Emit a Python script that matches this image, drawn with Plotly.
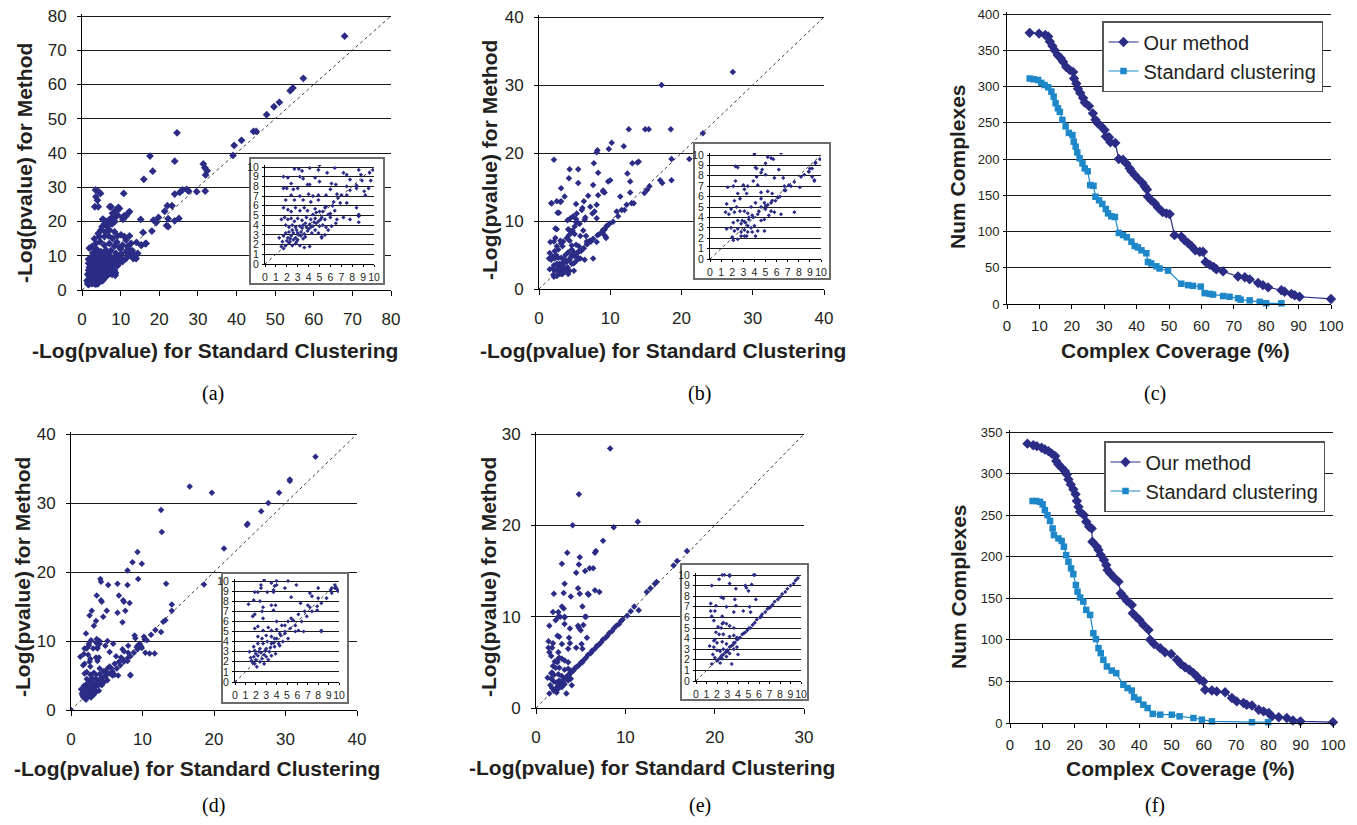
import plotly.graph_objects as go

W, H = 1357, 825
OFF = 8            # page body margin added by the browser around the plot div
FW, FH = W - 2 * OFF, H - 2 * OFF

# ---------------- data ----------------
# Panel (a): -log(p) standard clustering vs method
a_pts = [
    (2.7,9.8),(3.1,9.8),(3.4,9.6),(4.1,9.9),(4.9,9.7),(5.7,9.4),(6.4,9.9),(7.2,9.4),(7.5,9.2),(8.6,9.7),(9.6,9.4),(9.9,9.7),
    (1.7,9.0),(2.1,8.9),(3.2,9.0),(3.5,8.8),(4.6,8.9),(7.8,8.7),(6.1,8.3),(2.4,8.3),
    (1.7,7.8),(2.0,7.8),(2.6,7.7),(3.0,7.8),(3.9,8.2),(4.1,8.2),(5.0,8.5),(6.0,7.7),(6.5,8.2),(7.5,8.0),(8.4,7.8),(9.1,7.5),(9.2,7.1),
    (2.4,7.1),(3.2,7.0),(4.0,7.2),(4.4,7.0),(4.9,7.1),(5.6,7.1),(6.6,7.2),(7.0,7.1),
    (1.9,6.6),(2.7,6.6),(3.5,6.6),(4.2,6.4),(4.9,6.6),(6.3,6.4),(6.9,6.3),(7.5,6.3),
    (1.7,5.8),(2.1,5.6),(2.4,5.4),(2.8,5.8),(3.2,5.5),(3.6,5.8),(3.9,5.5),(4.6,5.7),(5.0,5.4),(5.5,5.8),(6.0,5.2),(6.4,5.5),
    (1.5,4.6),(1.8,4.8),(2.1,4.6),(2.4,4.7),(2.7,4.4),(3.0,4.7),(3.4,4.5),(3.8,4.8),(4.2,4.6),(4.6,4.7),(4.9,4.4),(5.2,4.8),
    (5.5,4.6),(6.0,4.8),(6.6,4.6),(7.2,4.8),(7.8,4.6),(8.6,5.1),(8.6,4.3),
    (1.9,4.0),(2.2,3.8),(2.5,4.0),(2.8,3.8),(3.2,3.9),(3.5,4.0),(3.8,3.8),(4.1,4.1),(4.4,3.9),(4.7,4.2),(5.0,3.9),(5.3,4.0),
    (5.6,3.8),(6.1,3.9),(6.5,4.2),
    (1.3,2.7),(1.7,2.9),(1.9,3.2),(2.1,2.7),(2.3,2.3),(2.4,2.9),(2.6,3.2),(2.8,2.7),(2.9,2.3),(3.1,3.0),(3.3,3.3),(3.5,2.6),
    (3.7,2.8),(3.9,3.4),(4.3,3.2),(4.6,3.5),(4.9,3.2),(5.2,2.8),(5.5,3.0),(5.8,3.5),
    (1.5,1.8),(1.7,1.6),(1.9,1.9),(2.2,2.2),(2.5,1.9),(2.8,2.1),(3.2,1.9),(3.6,1.7),(4.1,1.8),(5.2,2.7),
    (4.4,5.1),(4.7,5.3),(5.3,5.4),(5.6,5.9),(6.7,6.8),(7.5,7.1),(7.8,7.6),(8.4,8.1),(8.9,8.6),
    (2.0,2.4),(2.3,2.6),(2.6,2.5),(3.0,2.5),(3.3,2.9),(3.6,3.1),(4.0,3.6),(4.2,3.8),(2.2,3.3),(2.9,3.5),(3.4,3.7),(3.7,4.2),
    (4.5,4.3),(5.1,4.6),(5.8,5.1),(6.2,6.0),(1.6,2.3),(2.5,3.5),(3.0,3.2),
    (7.5,24.3),(8.8,23.4),(9.2,21.9),(9.7,23.8),(7.9,22.4),(8.6,21.2),(7.1,20.6),(6.2,20.0),(5.4,20.6),(5.8,19.3),(6.6,18.5),
    (7.8,19.3),(10.5,21.2),(11.4,21.6),(12.3,22.9),(10.8,28.2),
    (4.9,17.5),(6.0,17.0),(7.1,17.5),(8.4,17.0),(4.5,15.6),(5.8,15.6),(6.9,15.8),(7.9,15.1),(9.2,15.8),(10.1,16.1),(11.0,15.6),
    (11.4,14.6),(12.3,15.8),(12.7,13.6),(11.8,12.7),(3.6,13.6),(4.7,14.1),(5.8,13.1),(7.1,13.6),(8.4,12.8),(9.7,12.5),(10.5,13.1),
    (2.6,12.7),(3.8,11.9),(4.9,11.2),(6.2,11.7),(7.5,11.5),(8.8,10.7),(10.1,10.5),(11.4,11.2),(12.3,10.2),(13.5,10.2),(14.4,10.7),
    (15.3,13.1),(16.6,13.6),(14.0,9.2),(8.8,9.2),(9.7,8.6),(8.6,4.9),(8.4,5.8),(10.5,8.3),(11.4,9.2),(9.5,7.8),(1.9,12.2),(2.8,10.7),
    (3.0,11.0),(4.0,10.5),(5.0,10.2),(6.0,10.8),(7.0,10.3),(3.2,15.0),(4.2,16.5),(5.2,18.5),(9.0,14.0),(10.0,12.0),(12.0,12.0),(13.0,11.5),
    (68.0,74.1),(57.3,61.8),(54.6,59.0),(53.9,58.2),(51.1,54.8),(49.7,53.5),(47.8,51.2),(44.4,46.3),(45.1,46.3),(41.3,43.7),
    (39.4,42.2),(39.1,39.3),(24.6,45.9),(17.6,39.1),(18.3,34.7),(16.0,32.3),(24.0,37.6),(31.4,36.8),(31.8,35.7),(32.4,34.8),
    (32.0,33.6),(31.9,28.9),(29.7,28.7),(27.1,29.4),(26.0,29.2),(25.3,28.5),(24.0,28.0),(27.6,28.9),(23.3,24.6),(22.1,24.6),
    (21.4,23.0),(22.3,20.8),(19.8,21.2),(19.2,19.7),(18.5,20.4),(25.1,20.9),(24.0,20.2),(21.9,18.8),(22.3,18.5),(15.2,20.6),
    (18.1,17.2),(15.8,16.8),(16.4,13.5),(15.4,13.1),(14.1,13.9),(13.7,9.8),(13.3,9.2),
    (3.5,29.2),(4.3,28.7),(4.8,28.2),(3.6,27.2),(4.0,26.2),(3.3,24.3),(4.2,24.3),(7.2,24.3),(9.4,24.1),(8.9,23.1),(8.6,22.4),
    (8.0,21.4),(11.9,22.4),(10.9,21.6),(10.6,20.6),(5.4,20.7),(6.0,20.0),(6.4,19.4),(8.5,20.0),
]

# Panel (b)
b_pts = [
    (5.2,9.8),(5.5,9.7),(5.0,9.2),(2.3,8.9),(4.1,8.8),(4.7,8.6),(4.6,8.3),(4.2,7.9),(5.0,8.1),(6.2,8.6),(5.8,7.8),(6.6,7.8),
    (8.9,8.4),(9.2,8.7),(9.5,9.3),(9.2,7.9),(8.2,7.9),(9.4,7.5),(2.3,7.5),(3.9,7.5),(4.3,7.1),(3.0,7.1),(2.1,7.0),(1.6,6.9),
    (3.4,7.0),(3.1,6.7),(3.3,6.3),(2.5,6.3),(4.6,6.4),(5.2,6.5),(6.7,7.0),(7.3,7.0),(8.1,6.9),(6.8,6.6),(6.3,6.0),(5.6,6.3),
    (1.5,5.3),(2.2,5.6),(2.7,5.8),(2.4,5.0),(1.9,4.8),(1.4,4.5),(1.7,4.3),(2.2,4.5),(2.7,4.6),(3.1,4.6),(3.4,4.4),(3.7,5.0),
    (4.1,5.4),(4.6,5.8),(4.9,5.4),(5.2,5.2),(5.5,5.4),(5.9,5.6),(4.6,5.0),(5.0,4.8),(5.5,4.6),(5.8,4.5),(6.4,4.3),(7.6,4.5),
    (3.9,4.0),(4.3,4.3),(4.6,3.7),(4.9,3.8),(5.3,4.2),(3.5,3.8),(3.2,3.5),(2.9,3.7),(2.5,3.7),(2.1,3.5),(1.9,3.0),(1.5,2.9),
    (2.2,2.7),(2.5,2.9),(2.8,2.6),(3.1,2.8),(3.4,2.6),(3.7,3.0),(4.0,3.2),(3.4,3.2),(3.8,2.6),(4.3,2.7),(4.1,2.2),(4.9,2.7),
    (3.1,2.2),(3.3,2.2),(2.0,2.1),(2.1,1.8),(2.5,1.9),(2.8,2.2),
    (2.8,3.4),(3.1,3.6),(3.5,4.0),(3.8,4.2),(4.4,4.6),(5.0,5.1),(5.6,5.6),(6.1,5.9),(6.7,6.6),(7.1,7.1),(7.6,7.4),(8.5,8.1),(8.9,8.4),
    (27.2,31.9),(17.2,30.0),(12.6,23.5),(14.9,23.5),(15.4,23.5),(18.5,23.5),(23.0,22.9),(2.1,19.0),(21.1,19.1),(18.6,19.1),
    (10.2,21.5),(9.8,20.6),(11.9,21.0),(8.2,20.4),(8.1,20.1),(7.7,18.5),(8.3,17.1),(13.1,18.5),(13.8,18.6),(14.0,18.7),
    (12.4,17.0),(12.8,15.8),(12.8,14.2),(11.4,13.6),(9.7,15.8),(10.0,16.0),(9.2,14.2),(9.0,14.5),(7.6,15.3),(6.9,13.7),
    (4.3,17.6),(5.5,17.6),(4.2,16.3),(5.5,15.6),(1.7,12.6),(2.5,12.9),(3.1,12.9),(2.8,11.2),(3.1,14.8),(3.6,13.6),(5.2,12.5),
    (6.3,12.9),(6.1,11.9),(2.5,8.8),(4.2,8.7),(4.8,10.7),(8.1,10.4),(7.5,11.1),(7.2,12.1),(6.4,10.2),(5.7,9.6),(5.2,10.3),
    (4.4,10.4),(14.8,14.1),(15.5,15.1),(15.2,14.6),(17.0,16.0),(17.3,15.6),(18.6,16.0),(9.4,7.6),(9.0,8.7),(9.5,9.2),(9.9,9.6),
    (10.4,9.9),(11.1,10.7),(12.0,11.6),(13.0,12.6),(10.9,11.4),(11.6,11.6),(12.3,12.4),(13.3,12.6),(2.6,11.2),(1.8,12.6),
    (3.0,12.8),(4.0,10.1),(6.0,11.6),(6.5,10.5),(8.1,12.4),(7.8,11.4),(8.3,13.8),(9.0,14.3),(5.3,11.1),
]

# Panel (d)
d_pts = [
    (3.5,9.8),(4.0,10.0),(2.5,9.6),(2.5,9.3),(3.8,9.5),(4.8,9.3),(5.9,9.6),(8.0,9.3),(9.3,9.3),(9.8,9.2),(9.6,9.6),(9.9,9.0),
    (1.9,8.9),(3.1,8.9),(3.7,8.9),(5.4,8.4),(7.2,8.8),(7.4,8.5),(8.0,8.3),(1.3,7.7),(1.8,8.1),(2.4,8.0),(3.5,7.6),(3.9,7.6),
    (2.7,7.4),(3.7,7.1),(2.6,7.0),(6.3,7.8),(7.0,7.6),(7.2,7.4),(7.9,7.1),(1.7,6.5),(1.9,6.7),(2.7,6.3),(4.0,6.0),(5.4,6.3),
    (6.1,6.7),(6.7,7.0),(4.8,5.6),(6.6,5.0),(8.3,5.1),(6.1,5.1),(5.8,5.0),
    (1.9,5.3),(2.2,5.5),(2.7,5.1),(3.2,5.4),(3.5,5.1),(4.0,5.2),(4.5,5.6),(5.1,6.0),(5.6,6.1),(2.2,4.5),(2.6,4.3),(3.0,4.6),
    (3.5,4.5),(4.0,4.3),(4.4,4.6),(4.8,4.8),(5.1,4.3),(4.2,3.8),(4.6,4.0),(3.5,3.8),(3.1,4.0),(2.7,3.8),(2.2,3.8),(1.8,3.5),
    (1.4,3.0),(1.9,3.1),(2.4,3.3),(2.9,3.1),(3.4,3.4),(3.8,3.5),(4.3,3.6),(1.8,2.5),(2.2,2.6),(2.6,2.3),(3.0,2.5),(3.5,2.6),
    (3.9,2.8),(2.4,2.0),(2.8,1.8),(1.9,1.8),(1.6,2.1),(3.2,2.2),(2.1,1.5),
    (5.3,5.3),(5.8,5.6),(6.4,6.0),(6.9,6.5),(7.4,7.0),(7.9,7.5),(8.3,7.8),(8.8,8.3),(9.3,8.8),(9.6,9.3),(4.8,5.0),(4.3,4.8),
    (3.8,4.3),(0.0,0.0),(1.5,2.4),(2.0,2.8),(2.5,2.9),(3.0,3.3),(3.3,3.0),(3.7,3.9),(2.3,3.0),(2.8,2.7),(1.7,1.9),(2.0,2.2),
    (34.2,36.7),(30.6,33.4),(30.6,33.2),(29.1,31.5),(27.6,30.0),(26.6,28.8),(24.6,26.8),(24.7,27.0),(21.4,23.4),(18.6,18.2),
    (16.6,32.4),(19.7,31.5),(12.6,29.0),(12.7,25.8),(9.3,22.9),(8.6,21.4),(9.9,21.2),(7.9,20.2),(9.4,19.0),(13.3,18.3),
    (14.1,15.3),(14.1,14.4),(12.9,12.8),(13.2,13.0),(12.6,11.3),(4.1,19.0),(4.2,18.6),(5.2,18.1),(6.5,18.3),(7.9,18.1),
    (3.6,16.6),(4.2,15.9),(4.3,15.7),(6.7,16.6),(7.3,15.9),(7.4,15.7),(8.2,15.5),(7.6,14.4),(5.0,14.4),(6.5,14.1),(7.2,12.7),
    (2.6,13.7),(2.9,14.4),(3.5,12.9),(3.2,12.2),(4.5,13.5),(2.1,11.1),(2.8,10.1),(3.6,10.3),(4.0,9.6),(3.7,9.1),(2.2,8.9),
    (5.1,10.0),(8.9,10.8),(9.0,10.4),(10.2,10.6),(10.6,10.1),(9.7,9.4),(9.2,9.1),(10.4,8.3),(11.0,8.2),(11.7,8.2),(8.3,5.0),
    (10.3,10.2),(11.2,10.9),(11.8,11.6),
]

# Panel (e)
e_pts = [
    (2.5,10.0),(2.2,9.6),(3.2,9.9),(5.5,10.0),(1.5,9.0),(3.2,9.2),(5.3,9.1),(4.8,8.8),(4.7,9.0),(3.8,8.7),(5.0,8.5),(2.4,7.9),
    (2.6,7.8),(3.7,7.7),(5.7,7.7),(1.4,7.3),(1.9,7.1),(2.9,7.0),(3.8,7.1),(5.1,7.0),(1.4,6.6),(1.8,6.6),(4.5,6.6),(5.2,6.5),
    (1.5,6.1),(2.5,6.1),(3.6,6.5),
    (1.7,5.7),(2.5,5.4),(2.6,5.5),(2.9,5.4),(3.2,5.2),(2.1,5.1),(2.4,5.0),(3.6,5.0),(1.9,4.6),(2.2,4.4),(2.6,4.4),(3.2,4.2),
    (3.6,4.3),(3.9,4.1),(1.7,3.8),(1.8,3.9),(2.0,3.6),(2.5,3.7),(2.9,3.5),(3.6,3.6),(1.3,3.3),(1.7,3.2),(2.0,2.9),(2.3,2.8),
    (2.6,3.0),(3.0,2.8),(3.2,2.6),(3.6,3.0),(3.9,3.2),(1.6,2.5),(1.8,2.2),(2.0,1.9),(2.3,1.7),(2.5,2.1),(2.9,2.3),(3.4,1.6),
    (1.5,1.6),(4.0,2.5),
    (2.3,2.2),(2.8,2.7),(3.2,3.2),(3.7,3.6),(4.2,4.1),(4.7,4.6),(5.2,5.0),(5.6,5.5),(6.1,6.0),(6.6,6.5),(7.1,7.0),(7.5,7.5),
    (8.0,7.9),(8.5,8.4),(9.0,9.0),(9.5,9.5),(2.6,2.5),(3.0,2.9),(3.5,3.4),(3.9,3.9),(4.4,4.4),(4.9,4.8),(5.4,5.3),(5.8,5.8),
    (6.3,6.3),(6.8,6.8),(7.3,7.2),(7.8,7.7),(8.2,8.2),(8.7,8.7),(9.3,9.2),(9.7,9.7),(2.1,2.0),(2.45,2.4),(2.95,2.9),(3.35,3.3),
    (4.05,4.0),(4.55,4.5),(5.05,5.0),(6.2,6.1),(7.0,6.9),
    (8.3,28.4),(4.8,23.4),(4.1,20.0),(11.4,20.4),(8.7,19.8),(7.5,18.3),(6.7,17.2),(6.6,17.0),(3.5,17.0),(2.9,15.8),(4.9,16.5),
    (4.8,15.7),(4.5,14.8),(5.5,15.0),(6.0,15.3),(6.4,15.3),(3.2,13.6),(3.9,12.2),(2.0,12.5),(3.1,12.6),(4.9,12.5),(4.7,13.1),
    (5.8,12.5),(5.9,12.4),(6.6,12.9),(7.1,12.7),(5.2,11.1),(5.6,10.0),(1.9,10.5),(2.5,10.5),(2.7,10.0),(2.9,11.1),
    (3.1,10.9),(3.2,10.0),(16.9,17.2),(15.8,16.1),(15.4,15.6),(13.5,13.8),(13.3,13.6),(12.8,13.1),(12.4,12.7),(11.5,10.7),
    (10.6,10.6),(10.2,10.1),(11.0,11.1),
]

# Panel (c): complex coverage curves
c_our_x = [7.0,9.9,11.8,12.7,13.2,14.0,14.7,15.7,16.6,17.3,18.3,19.3,20.4,20.7,21.4,21.9,22.6,23.5,24.0,25.3,26.5,27.3,
           28.1,29.1,30.1,30.5,31.5,31.9,33.4,34.5,35.8,36.8,37.9,38.4,39.4,40.4,41.8,42.5,43.2,43.5,44.5,45.6,46.6,48.0,
           49.2,50.2,51.7,53.8,54.8,55.9,56.9,58.1,59.5,60.5,61.3,62.6,63.8,64.6,66.7,71.3,73.4,74.9,77.5,79.0,80.6,84.7,
           85.7,87.8,88.8,90.3,100.0]
c_our_y = [374,373,371,369,362,356,350,343,339,334,327,323,320,311,304,297,291,284,278,273,263,254,
           249,245,240,231,230,223,222,200,199,194,187,183,178,173,167,162,158,148,143,139,133,127,
           125,124,95,93,88,84,80,74,72,72,58,54,51,48,45,38,37,34,29,26,23,19,
           17,14,12,10,7]
c_std_x = [7.0,8.2,9.6,10.6,11.6,12.7,13.7,14.4,15.0,15.7,16.3,17.1,18.1,19.1,20.2,20.6,21.2,21.7,22.4,23.3,24.0,24.9,
           25.7,26.7,27.3,28.4,29.4,30.5,31.2,32.2,33.3,34.5,35.8,37.0,38.4,39.4,40.4,41.5,43.0,43.5,44.5,46.1,47.1,49.7,
           53.8,55.9,57.4,59.8,61.0,62.6,63.6,66.7,68.7,71.3,72.1,74.9,78.0,80.0,84.7]
c_std_y = [311,310,309,305,302,299,293,286,277,270,265,254,245,236,233,224,217,209,201,194,187,183,
           164,163,148,143,138,131,125,121,120,98,95,92,86,80,78,74,70,58,56,52,49,46,
           28,26,25,24,15,14,13,11,10,8,6,5,3,1,1]

# Panel (f)
f_our_x = [5.4,7.2,8.3,9.8,10.8,11.9,12.9,14.0,14.3,15.0,16.0,17.0,17.6,18.1,18.8,19.6,20.3,20.7,21.2,21.7,22.9,23.6,
           24.5,25.3,25.5,26.9,27.4,28.1,29.1,29.8,30.2,31.0,32.2,33.6,34.3,35.1,36.2,37.7,38.0,39.0,40.1,41.3,42.9,43.4,
           44.6,46.5,48.0,49.9,51.7,52.9,54.2,55.5,56.8,57.9,58.7,59.9,60.4,62.5,64.0,66.6,68.7,70.2,72.3,73.3,74.9,77.0,
           78.5,80.1,81.1,83.2,85.7,87.6,89.9,100.0]
f_our_y = [336,334,333,331,329,327,324,321,315,311,307,303,299,293,287,281,275,267,260,254,250,242,
           236,234,218,212,208,202,196,190,184,180,175,170,156,152,147,142,132,128,124,118,112,100,
           95,90,85,83,76,71,67,64,60,56,52,50,40,39,38,37,30,26,24,22,21,16,
           14,12,8,7,6,3,2,1]
f_std_x = [7.0,8.1,9.3,10.1,10.8,11.6,12.4,13.2,13.6,15.0,16.0,16.7,17.4,18.1,18.9,19.6,20.4,20.9,21.7,22.7,23.6,24.8,
           25.8,26.6,27.4,28.1,28.9,30.0,31.5,32.9,35.1,36.4,37.7,38.4,39.8,41.3,42.6,44.2,46.5,50.1,52.5,56.8,59.4,62.5,
           74.9,79.9]
f_std_y = [267,267,266,263,256,250,243,234,226,222,219,212,202,194,186,179,166,158,151,146,136,130,
           108,101,90,84,76,68,63,60,46,42,39,31,28,22,18,11,10,10,8,6,4,2,
           1,1]

# ---------------- styling ----------------
NAVY = '#2B2C85'
LIGHT = '#1D87C9'
GRID = '#1a1a1a'
TXT = '#231F20'
SANS = 'Liberation Sans, Arial, sans-serif'
SERIF = 'Liberation Serif, Times New Roman, serif'
EXT = 2.0   # px added above each plot area so the top gridline is not clipped at the edge


def px(p):
    return (p - OFF) / FW


def py(p):
    return 1 - (p - OFF) / FH


def dom_x(l, r):
    return [px(l), px(r)]


def dom_y(t, b):
    return [py(b), py(t)]


fig = go.Figure()
lay = dict(width=FW, height=FH, margin=dict(l=0, r=0, t=0, b=0), paper_bgcolor='white',
           plot_bgcolor='white', template='none', font=dict(family=SANS, color=TXT),
           showlegend=True)


def axname(i, k):
    return k + ('axis' if i == 1 else 'axis%d' % i)


def ref(i, k):
    return k if i == 1 else '%s%d' % (k, i)


def set_axes(i, xpx, ypx, xr, yr, xd, yd, xfs, yfs, xstand, ystand, xtl=5, ytl=4):
    top, bot = ypx
    span = yr[1] - yr[0]
    yr_ext = [yr[0], yr[1] + span * EXT / (bot - top)]
    lay[axname(i, 'x')] = dict(domain=dom_x(*xpx), range=xr, dtick=xd, tick0=0, anchor=ref(i, 'y'),
                               showgrid=False, zeroline=False, showline=True, linecolor='black', linewidth=1,
                               ticks='outside', ticklen=xtl, tickcolor='black', tickwidth=1, tickangle=0,
                               tickfont=dict(size=xfs, color=TXT, family=SANS), ticklabelstandoff=xstand,
                               ticklabeloverflow='allow', fixedrange=True)
    lay[axname(i, 'y')] = dict(domain=dom_y(top - EXT, bot), range=yr_ext, dtick=yd, tick0=0,
                               anchor=ref(i, 'x'),
                               showgrid=True, gridcolor=GRID, gridwidth=1, zeroline=False, showline=True,
                               linecolor='black', linewidth=1, ticks='outside', ticklen=ytl,
                               tickcolor='black', tickwidth=1, tickangle=0,
                               tickfont=dict(size=yfs, color=TXT, family=SANS), ticklabelstandoff=ystand,
                               ticklabeloverflow='allow', fixedrange=True)


def set_box(i, xpx, ypx):
    common = dict(range=[0, 1], showgrid=False, zeroline=False, showline=True, mirror=True,
                  linecolor='#6b6b6b', linewidth=1.5, showticklabels=False, ticks='', fixedrange=True)
    lay[axname(i, 'x')] = dict(domain=dom_x(*xpx), anchor=ref(i, 'y'), **common)
    lay[axname(i, 'y')] = dict(domain=dom_y(*ypx), anchor=ref(i, 'x'), **common)
    fig.add_trace(go.Scatter(x=[None], y=[None], xaxis=ref(i, 'x'), yaxis=ref(i, 'y'),
                             showlegend=False, hoverinfo='skip'))


def add_scatter(i, pts, lim, msize):
    xs = [p[0] for p in pts]
    ys = [p[1] for p in pts]
    fig.add_trace(go.Scatter(x=[0, lim], y=[0, lim], mode='lines', xaxis=ref(i, 'x'), yaxis=ref(i, 'y'),
                             line=dict(color='#3a3a3a', width=1, dash='3px,3px'), showlegend=False,
                             hoverinfo='skip'))
    fig.add_trace(go.Scatter(x=xs, y=ys, mode='markers', xaxis=ref(i, 'x'), yaxis=ref(i, 'y'),
                             marker=dict(symbol='diamond', size=msize, color=NAVY,
                                         line=dict(width=0)), showlegend=False))


# main scatter panels: (index, data, x px, y px, max, dtick, marker size)
scatter_panels = [
    (1, a_pts, (82, 391), (16, 290), 80, 10, 6),
    (2, b_pts, (539, 824), (17, 289), 40, 10, 5),
    (4, d_pts, (71, 357), (434, 710), 40, 10, 5),
    (5, e_pts, (536, 804), (434, 708), 30, 10, 5),
]
for i, pts, xp, yp, lim, dt, ms in scatter_panels:
    set_axes(i, xp, yp, [0, lim], [0, lim], dt, dt, 17, 17, 9, 7)
    add_scatter(i, pts, lim, ms)

# line panels
set_axes(3, (1007, 1331), (14, 304), [0, 100], [0, 400], 10, 50, 15, 13, 4, 1, xtl=4, ytl=3)
set_axes(6, (1010, 1333), (432, 723), [0, 100], [0, 350], 10, 50, 15, 13, 4, 1, xtl=4, ytl=3)

for i, ox, oy, sx, sy, lg in [(3, c_our_x, c_our_y, c_std_x, c_std_y, 'legend'),
                              (6, f_our_x, f_our_y, f_std_x, f_std_y, 'legend2')]:
    fig.add_trace(go.Scatter(x=ox, y=oy, mode='lines+markers', name='Our method', legend=lg,
                             xaxis=ref(i, 'x'), yaxis=ref(i, 'y'), cliponaxis=False,
                             line=dict(color=NAVY, width=1.2),
                             marker=dict(symbol='diamond', size=8, color=NAVY)))
    fig.add_trace(go.Scatter(x=sx, y=sy, mode='lines+markers', name='Standard clustering', legend=lg,
                             xaxis=ref(i, 'x'), yaxis=ref(i, 'y'), cliponaxis=False,
                             line=dict(color=LIGHT, width=1.2),
                             marker=dict(symbol='square', size=6.5, color=LIGHT)))

for key, lx, ly in [('legend', 1102, 21), ('legend2', 1104, 441)]:
    lay[key] = dict(x=px(lx), y=py(ly), xanchor='left', yanchor='top', bgcolor='white',
                    bordercolor='#555555', borderwidth=1.5, font=dict(size=20, color=TXT, family=SANS),
                    tracegroupgap=0, itemwidth=30)

# inset boxes (7-10) and insets (11-14)
insets = [
    (7, 11, a_pts, (251, 383), (159, 283), (265, 374), (167, 264)),
    (8, 12, b_pts, (695, 829), (144, 278), (710, 821), (155, 259)),
    (9, 13, d_pts, (223, 347), (574, 702), (235, 339), (581, 682)),
    (10, 14, e_pts, (682, 807), (565, 699), (696, 801), (575, 681)),
]
for bi, ii, pts, bxp, byp, ixp, iyp in insets:
    set_box(bi, bxp, byp)
    set_axes(ii, ixp, iyp, [0, 10], [0, 10], 1, 1, 10.5, 10.5, 1, 1, xtl=2, ytl=2)
    inside = [p for p in pts if p[0] <= 10.2 and p[1] <= 10.2]
    add_scatter(ii, inside, 10, 3.2)

# annotations: axis titles and panel labels
ann = []
xt = '<b>-Log(pvalue) for Standard Clustering</b>'
yt = '<b>-Log(pvalue) for Method</b>'
for cx, cy in [(215, 350), (663, 350), (197, 768), (652, 767)]:
    ann.append(dict(x=px(cx), y=py(cy), text=xt))
for cx, cy in [(24, 163), (490, 160), (22, 577), (488, 577)]:
    ann.append(dict(x=px(cx), y=py(cy), text=yt, textangle=-90))
for cx, cy in [(1175, 350), (1180, 768)]:
    ann.append(dict(x=px(cx), y=py(cy), text='<b>Complex Coverage (%)</b>'))
for cx, cy in [(958, 167), (958, 587)]:
    ann.append(dict(x=px(cx), y=py(cy), text='<b>Num Complexes</b>', textangle=-90))
for a in ann:
    a.update(xref='paper', yref='paper', showarrow=False, xanchor='center', yanchor='middle',
             font=dict(size=21, color=TXT, family=SANS))
for lab, cx, cy in [('(a)', 213, 393), ('(b)', 700, 393), ('(c)', 1155, 393),
                    ('(d)', 213, 805), ('(e)', 700, 805), ('(f)', 1155, 805)]:
    ann.append(dict(x=px(cx), y=py(cy), text=lab, xref='paper', yref='paper', showarrow=False,
                    xanchor='center', yanchor='middle', font=dict(size=20, color='black', family=SERIF)))
lay['annotations'] = ann

fig.update_layout(**lay)
fig.write_html('out.html')
